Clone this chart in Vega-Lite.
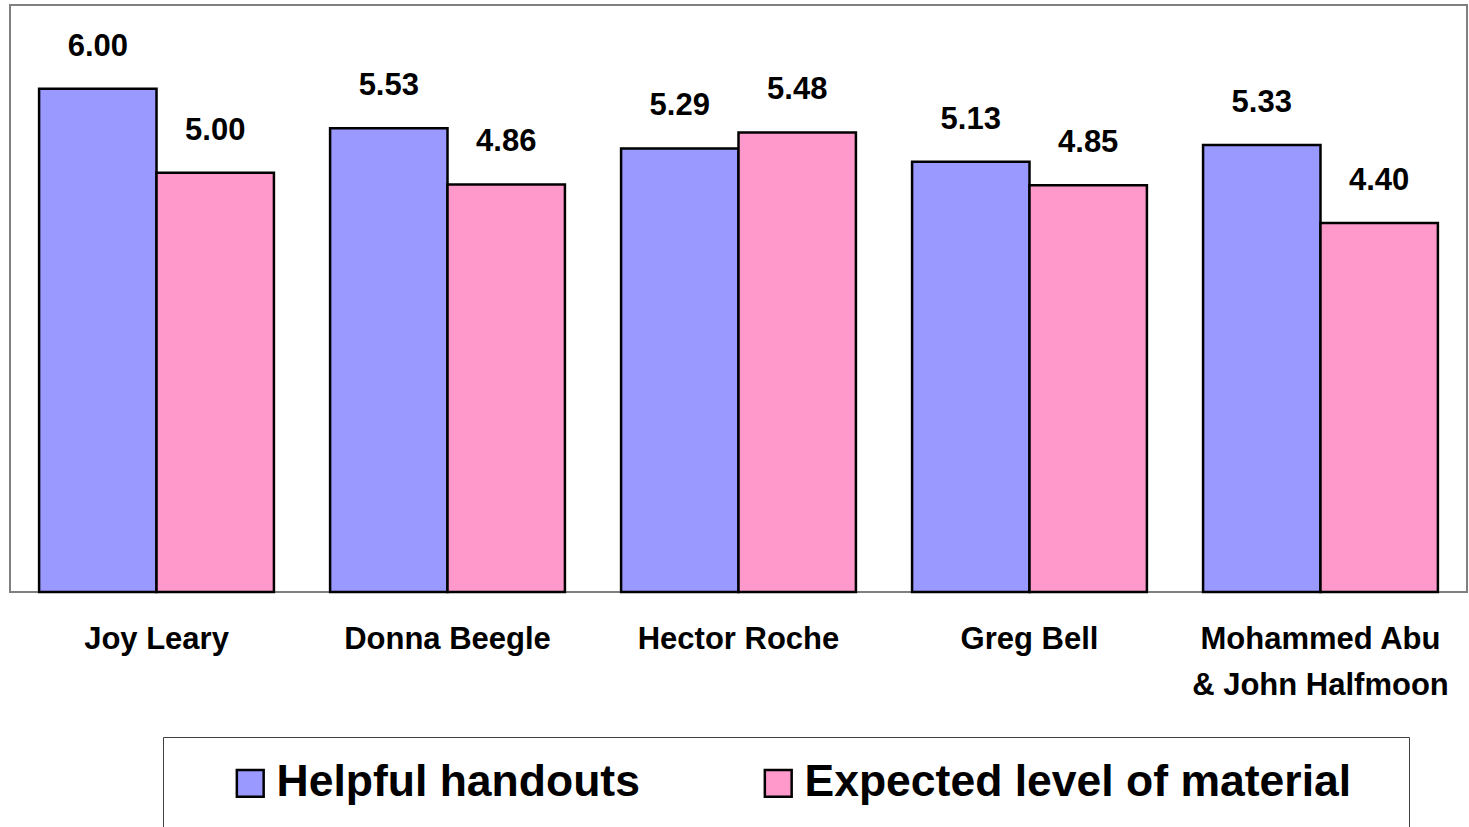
{
  "$schema": "https://vega.github.io/schema/vega-lite/v6.json",
  "width": 1457,
  "height": 587,
  "padding": {"left": 10, "top": 5, "right": 2, "bottom": 235},
  "autosize": {"type": "none"},
  "background": "white",
  "config": {
    "view": {"stroke": "#808080", "strokeWidth": 2},
    "font": "Liberation Sans"
  },
  "data": {
    "values": [
      {"presenter": "Joy Leary", "series": "Helpful handouts", "value": 6.00},
      {"presenter": "Joy Leary", "series": "Expected level of material", "value": 5.00},
      {"presenter": "Donna Beegle", "series": "Helpful handouts", "value": 5.53},
      {"presenter": "Donna Beegle", "series": "Expected level of material", "value": 4.86},
      {"presenter": "Hector Roche", "series": "Helpful handouts", "value": 5.29},
      {"presenter": "Hector Roche", "series": "Expected level of material", "value": 5.48},
      {"presenter": "Greg Bell", "series": "Helpful handouts", "value": 5.13},
      {"presenter": "Greg Bell", "series": "Expected level of material", "value": 4.85},
      {"presenter": "Mohammed Abu & John Halfmoon", "series": "Helpful handouts", "value": 5.33},
      {"presenter": "Mohammed Abu & John Halfmoon", "series": "Expected level of material", "value": 4.40}
    ]
  },
  "encoding": {
    "x": {
      "field": "presenter",
      "type": "nominal",
      "sort": null,
      "scale": {"paddingInner": 0.193, "paddingOuter": 0.1},
      "axis": {
        "title": null,
        "domain": false,
        "ticks": false,
        "labelAngle": 0,
        "labelFont": "Liberation Sans",
        "labelFontWeight": "bold",
        "labelFontSize": 31,
        "labelColor": "black",
        "labelPadding": 32,
        "labelLineHeight": 46,
        "labelLimit": 400,
        "labelBaseline": "top",
        "labelExpr": "datum.value == 'Mohammed Abu & John Halfmoon' ? ['Mohammed Abu', '& John Halfmoon'] : datum.value"
      }
    },
    "xOffset": {
      "field": "series",
      "type": "nominal",
      "sort": ["Helpful handouts", "Expected level of material"],
      "scale": {"paddingInner": 0, "paddingOuter": 0}
    },
    "y": {
      "field": "value",
      "type": "quantitative",
      "scale": {"domain": [0, 7], "nice": false, "zero": true},
      "axis": null
    }
  },
  "layer": [
    {
      "mark": {"type": "bar", "stroke": "black", "strokeWidth": 2.5},
      "encoding": {
        "color": {
          "field": "series",
          "type": "nominal",
          "sort": ["Helpful handouts", "Expected level of material"],
          "scale": {"domain": ["Helpful handouts", "Expected level of material"], "range": ["#9999FF", "#FF99CC"]},
          "legend": {
            "title": null,
            "orient": "none",
            "direction": "horizontal",
            "legendX": 153,
            "legendY": 732,
            "strokeColor": "#404040",
            "fillColor": "white",
            "padding": 24,
            "symbolOffset": 41,
            "labelFont": "Liberation Sans",
            "labelFontWeight": "bold",
            "labelFontSize": 44.5,
            "labelColor": "black",
            "labelLimit": 900,
            "labelOffset": 4,
            "labelExpr": "datum.label + '\u2800'",
            "symbolType": "square",
            "symbolSize": 720,
            "symbolStrokeColor": "black",
            "symbolStrokeWidth": 2.5,
            "symbolOpacity": 1,
            "columnPadding": 42,
            "offset": 0
          }
        }
      }
    },
    {
      "mark": {"type": "text", "baseline": "bottom", "dy": -26, "fontSize": 31, "fontWeight": "bold", "font": "Liberation Sans", "color": "black"},
      "encoding": {
        "text": {"field": "value", "type": "quantitative", "format": ".2f"}
      }
    }
  ]
}
